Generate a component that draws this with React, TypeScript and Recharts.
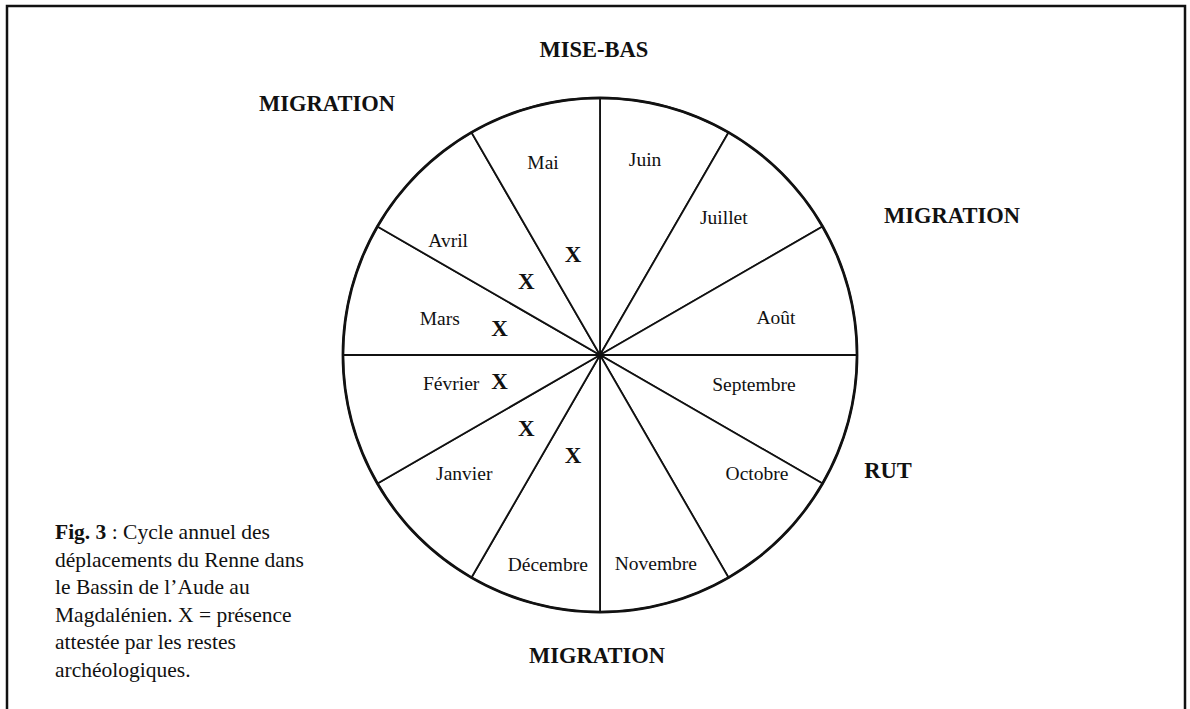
import React from 'react';
import { Cell, Pie, PieChart } from 'recharts';

// months clockwise from the top (Juin first)
const months = ['Juin', 'Juillet', 'Août', 'Septembre', 'Octobre', 'Novembre', 'Décembre', 'Janvier', 'Février', 'Mars', 'Avril', 'Mai'];
const shares = [1, 1, 1, 1, 1, 1, 1, 1, 1, 1, 1, 1];
const presence = [false, false, false, false, false, false, true, true, true, true, true, true];

const seasonLabels = ['MISE-BAS', 'MIGRATION', 'MIGRATION', 'RUT', 'MIGRATION'];
const captionLines = [
    ': Cycle annuel des',
    'déplacements du Renne dans',
    'le Bassin de l\u2019Aude au',
    'Magdalénien. X = présence',
    'attestée par les restes',
    'archéologiques.',
];

const data = months.map((m, i) => ({ name: m, value: shares[i], present: presence[i] }));
const rim = [{ name: 'rim', value: 1 }];

// label nudges: [angle offset in degrees, fraction of the radius]
const labelNudge: [number, number][] = [
    [2, 0.78], [3, 0.72], [-3, 0.7], [4, 0.61], [8, 0.765], [0, 0.84],
    [1, 0.84], [-4, 0.7], [-4, 0.59], [2, 0.64], [8, 0.74], [1.5, 0.78],
];
const seasonPos = [
    { x: 594, y: 49 },
    { x: 327, y: 103 },
    { x: 952, y: 215 },
    { x: 888, y: 470 },
    { x: 597, y: 655 },
];

const RAD = Math.PI / 180;
const serif = '"Liberation Serif", "DejaVu Serif", serif';
const ink = '#111';

function MonthLabel(props: any) {
    const { cx, cy, midAngle, outerRadius, index } = props;
    const [dA, rf] = labelNudge[index];
    const a = (midAngle + dA) * RAD;
    const x = cx + outerRadius * rf * Math.cos(a);
    const y = cy - outerRadius * rf * Math.sin(a);
    const ma = midAngle * RAD;
    const xr = outerRadius * 0.405;
    return (
        <g>
            <text x={x} y={y} textAnchor="middle" dominantBaseline="central" fontFamily={serif} fontSize={19.5} fill={ink}>
                {months[index]}
            </text>
            {presence[index] && (
                <text
                    x={cx + xr * Math.cos(ma)}
                    y={cy - xr * Math.sin(ma)}
                    textAnchor="middle"
                    dominantBaseline="central"
                    fontFamily={serif}
                    fontWeight="bold"
                    fontSize={23}
                    fill={ink}
                >
                    X
                </text>
            )}
        </g>
    );
}

export default function App() {
    return (
        <div style={{ position: 'fixed', left: 0, top: 0, width: 1190, height: 709, background: '#fff', overflow: 'hidden' }}>
            <PieChart width={1190} height={709}>
                <Pie
                    data={data}
                    dataKey="value"
                    nameKey="name"
                    cx={595}
                    cy={350}
                    outerRadius={257}
                    startAngle={90}
                    endAngle={-270}
                    stroke={ink}
                    strokeWidth={1.8}
                    label={MonthLabel}
                    labelLine={false}
                    isAnimationActive={false}
                >
                    {data.map((d) => (
                        <Cell key={d.name} fill="#fff" />
                    ))}
                </Pie>
                {/* heavier outer rim, drawn as a thin filled ring */}
                <Pie
                    data={rim}
                    dataKey="value"
                    cx={595}
                    cy={350}
                    innerRadius={255.7}
                    outerRadius={258.4}
                    startAngle={90}
                    endAngle={-270}
                    fill={ink}
                    stroke="none"
                    isAnimationActive={false}
                />
            </PieChart>
            <svg width={1190} height={709} style={{ position: 'absolute', left: 0, top: 0, pointerEvents: 'none' }}>
                <polyline points="7,720 7,6 1185,6 1185,720" fill="none" stroke={ink} strokeWidth={2.5} />
                {seasonLabels.map((s, i) => (
                    <text
                        key={i}
                        x={seasonPos[i].x}
                        y={seasonPos[i].y}
                        textAnchor="middle"
                        dominantBaseline="central"
                        fontFamily={serif}
                        fontWeight="bold"
                        fontSize={22.5}
                        fill={ink}
                    >
                        {s}
                    </text>
                ))}
                <text fontFamily={serif} fontSize={21.5} fill={ink}>
                    {captionLines.map((line, i) => (
                        <tspan key={i} x={55} y={539 + i * 27.5}>
                            {i === 0 && <tspan fontWeight="bold">Fig. 3 </tspan>}
                            {line}
                        </tspan>
                    ))}
                </text>
            </svg>
        </div>
    );
}
